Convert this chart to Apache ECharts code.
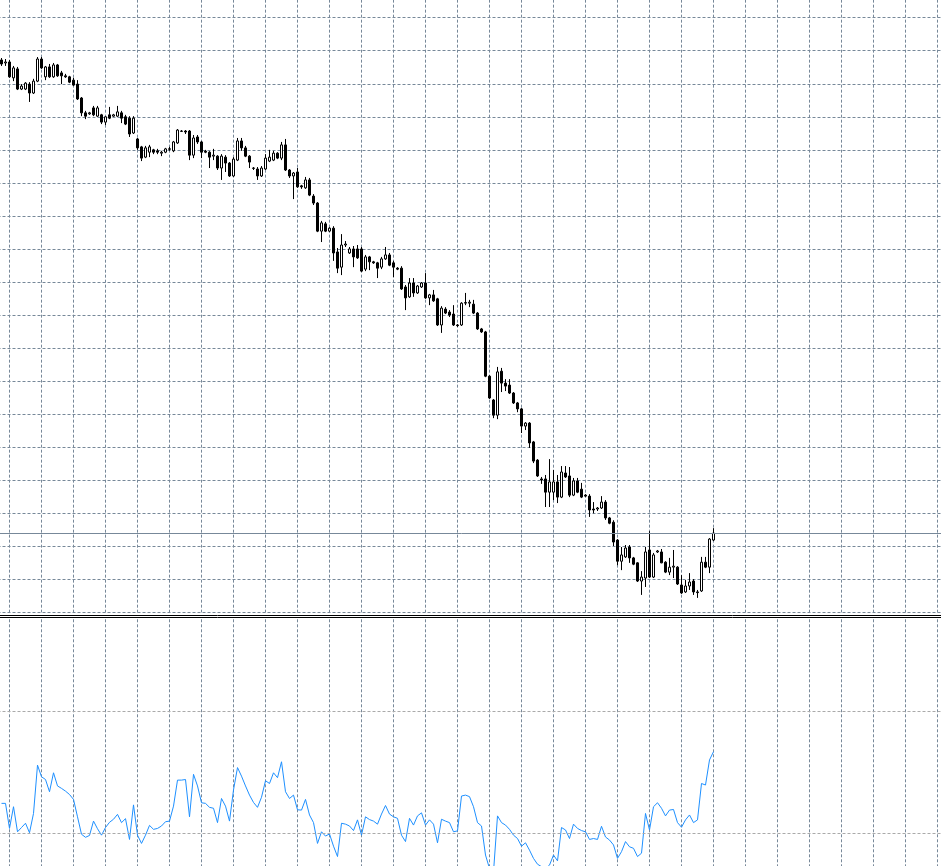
<!DOCTYPE html>
<html>
<head>
<meta charset="utf-8">
<script src="https://cdn.jsdelivr.net/npm/echarts@6/dist/echarts.min.js"></script>
<style>
html,body{margin:0;padding:0;background:#ffffff;width:941px;height:866px;overflow:hidden;position:relative;}
#chart{position:absolute;left:-40px;top:-40px;width:1030px;height:1000px;}
</style>
</head>
<body>
<div id="chart"></div>
<script>
// ---- Data (bar index 0..178) ----
const open = [
167.2,166.3,166.6,161.8,164.5,158.4,158.4,159.9,157.2,160.8,
167.5,162.1,165.1,162.1,165.7,163.3,162.4,162.1,161.1,159.9,
155.7,151.2,150.9,152.7,150.2,150.6,148.4,150.6,150.2,150.2,
151.2,150.0,149.6,145.1,143.3,140.9,137.8,139.3,140.0,139.7,
139.0,139.3,140.3,139.7,142.1,145.7,145.7,145.7,138.4,143.9,
142.4,139.6,139.3,138.1,138.1,134.5,137.8,136.0,132.1,136.9,
142.7,140.6,138.1,134.5,134.2,132.1,134.2,136.6,136.9,139.0,
137.5,141.5,133.9,132.1,133.3,129.1,128.5,130.9,126.0,123.9,
115.4,117.6,115.4,116.3,109.1,104.5,111.2,108.8,110.0,110.0,
110.0,103.9,107.6,106.1,105.8,104.5,107.0,108.2,105.8,104.2,
104.2,98.5,95.5,99.7,96.7,98.5,99.7,95.2,96.1,94.9,
87.0,91.8,90.9,90.3,87.0,87.0,93.6,93.6,93.3,90.6,
85.8,84.9,71.5,64.3,59.7,73.0,69.4,68.8,66.4,63.4,
61.6,56.4,57.3,51.6,46.1,40.4,40.4,36.4,36.4,39.5,
34.9,42.2,41.3,35.5,39.8,37.3,35.5,35.2,31.3,31.3,
31.6,33.4,28.6,27.3,21.9,15.5,16.8,19.8,16.5,15.0,
9.5,10.4,18.9,10.7,18.3,18.3,15.2,12.2,13.7,13.7,
8.3,6.2,8.0,9.5,6.2,6.5,15.2,13.7,21.9
];
const close = [
166.0,166.6,162.1,164.8,158.4,159.3,160.2,157.2,160.8,167.5,
164.8,165.1,162.1,165.7,162.4,162.4,162.1,160.5,159.6,155.4,
151.2,150.2,151.2,150.6,152.7,148.4,150.0,149.6,150.6,151.5,
149.6,147.8,144.8,149.6,140.6,137.5,140.6,140.9,139.3,139.3,
139.3,140.3,140.2,142.4,146.0,145.6,145.4,138.4,143.6,142.4,
139.3,139.3,137.8,138.4,134.5,138.1,136.0,132.1,137.2,142.7,
140.6,138.1,136.3,134.4,132.1,134.5,137.5,137.8,139.0,137.5,
141.5,133.9,132.1,133.0,128.8,128.8,130.9,126.3,123.9,115.4,
117.9,115.4,116.3,108.8,104.2,111.2,111.5,110.0,107.6,107.3,
103.3,107.6,106.1,105.8,104.2,107.0,108.2,105.1,104.5,103.9,
97.9,95.2,99.7,96.7,98.8,99.7,95.2,96.1,94.3,87.0,
92.1,90.6,90.0,87.0,86.8,93.6,93.8,93.9,90.6,85.8,
84.9,71.5,64.9,59.7,72.8,69.4,68.5,66.4,63.4,61.6,
56.4,57.3,51.3,45.8,41.3,40.1,36.4,39.5,39.5,34.9,
42.5,41.0,35.5,39.8,36.4,34.9,35.2,31.0,31.0,31.6,
33.4,28.6,27.0,21.3,15.5,17.4,19.5,16.5,14.6,9.5,
10.7,18.3,10.7,17.4,18.6,15.0,12.2,13.7,14.0,8.6,
5.9,8.0,9.2,6.2,6.0,15.2,13.7,22.2,24.0
];
const low = [
165.4,165.4,161.8,160.8,158.1,158.1,158.1,154.5,156.9,160.5,
164.5,161.1,161.8,161.8,162.1,159.9,161.8,160.2,159.3,155.1,
150.2,149.3,150.6,150.2,150.0,147.8,147.5,149.3,150.0,150.0,
148.1,147.5,143.9,144.8,140.0,136.6,137.5,137.8,138.7,138.7,
138.1,139.0,139.7,139.3,141.8,145.4,144.8,136.9,137.5,141.8,
137.5,139.0,134.5,136.9,133.9,130.9,133.3,131.8,131.8,136.6,
139.7,137.8,134.5,133.9,130.9,131.8,133.9,136.3,136.6,137.2,
136.9,133.6,131.5,125.1,128.5,128.2,128.2,126.0,123.3,115.1,
112.1,115.1,115.1,106.4,102.7,102.1,110.6,108.5,104.5,107.0,
103.0,103.3,103.6,105.5,101.2,103.9,106.7,104.8,101.5,103.6,
97.6,91.5,95.2,95.5,96.4,98.2,94.9,93.0,94.0,86.7,
84.6,90.3,89.4,86.7,86.4,86.7,93.0,92.4,90.3,85.5,
84.6,71.2,64.6,58.8,58.5,66.7,67.0,66.1,63.1,60.6,
54.3,55.2,49.8,45.2,41.0,38.9,31.9,31.9,34.0,33.1,
34.6,40.7,34.9,35.2,36.1,34.6,34.9,28.9,30.0,30.7,
31.3,28.0,26.7,20.1,14.3,12.8,16.5,15.0,14.3,9.2,
5.3,7.7,10.4,10.4,18.0,14.9,11.9,11.3,10.4,8.3,
5.6,5.9,6.8,5.3,4.4,6.2,13.4,11.9,21.6
];
const high = [
167.8,167.5,167.2,165.4,165.1,159.9,160.5,160.5,161.5,168.1,
168.1,165.4,166.0,166.3,166.0,163.9,163.0,162.4,161.8,161.1,
156.0,151.8,151.5,153.3,153.3,150.9,150.2,153.0,150.9,153.3,
151.8,150.6,150.2,150.2,143.6,141.2,141.2,141.5,140.3,140.3,
139.7,140.6,140.9,142.7,146.3,146.0,146.0,146.0,144.5,144.5,
142.7,140.0,139.6,140.3,138.4,138.7,138.4,136.3,137.8,143.6,
143.6,141.2,138.4,134.8,134.8,135.1,138.7,140.0,139.7,139.3,
142.4,143.3,134.2,133.3,134.5,129.4,131.8,131.5,126.6,124.2,
118.5,118.2,116.6,116.9,110.3,114.5,112.4,110.6,110.9,111.2,
110.6,108.2,107.9,106.4,106.1,107.6,110.6,108.8,106.4,104.5,
104.8,99.1,101.2,101.2,99.1,100.0,102.7,96.4,97.6,95.2,
92.7,92.4,91.5,93.0,87.3,93.9,96.7,94.6,94.6,90.9,
86.1,85.2,71.8,64.6,74.3,74.0,70.6,70.6,66.7,63.7,
61.9,57.6,57.6,51.9,46.4,41.0,41.6,46.4,43.1,41.6,
44.3,44.3,44.0,40.7,40.7,39.2,35.8,35.8,33.4,31.9,
35.2,34.0,28.9,27.9,22.2,19.8,20.4,20.4,16.8,15.2,
12.5,19.8,24.6,18.0,18.9,19.2,15.5,16.5,18.9,14.0,
11.3,9.8,11.9,10.1,6.8,16.8,16.8,22.5,25.5
];
const rsi = [
39.8,39.8,31.6,38.7,30.5,31.9,33.3,30.2,36.5,52.3,
48.5,47.6,43.6,49.8,45.5,44.7,43.8,42.7,41.1,35.4,
29.7,28.7,29.3,34.0,31.5,29.4,31.9,33.6,34.6,36.2,
33.5,34.8,28.0,39.3,29.4,26.7,29.4,32.6,31.3,31.6,
32.4,33.8,34.0,38.9,47.4,47.4,47.6,35.4,49.3,45.5,
40.0,39.8,38.5,38.2,33.5,41.4,38.9,34.0,44.2,51.5,
48.7,45.5,42.5,40.1,38.5,41.8,47.2,46.3,49.8,48.2,
53.4,43.6,41.4,42.5,37.7,37.6,41.1,36.0,33.5,26.7,
30.5,29.1,29.8,25.8,22.4,33.3,33.0,32.4,30.9,34.4,
29.4,35.4,34.5,34.0,33.0,36.3,39.1,36.3,35.4,34.9,
29.4,27.3,34.9,32.7,35.7,36.7,32.7,34.4,33.0,26.9,
34.6,34.0,33.5,30.5,30.8,42.2,42.5,42.0,38.7,33.5,
32.4,22.9,18.5,17.4,35.7,33.5,32.7,31.3,29.4,28.3,
25.8,26.9,24.5,21.8,19.9,19.1,18.5,19.6,22.9,21.0,
31.9,31.1,28.3,33.0,31.6,30.9,30.5,28.0,28.3,28.0,
32.3,28.8,27.8,26.2,21.8,24.0,27.3,25.6,25.1,22.4,
23.5,36.5,31.1,38.7,40.0,38.2,35.7,37.6,37.8,33.5,
32.0,34.4,36.0,33.5,34.4,46.3,45.8,54.0,56.7
];
const rsiLevels = [30, 70];

// ---- build series data ----
const candleData = open.map((o, i) => [i, o, close[i], low[i], high[i]]);
const rsiData = rsi.map((v, i) => [i, v]);
const lastClose = close[close.length - 1];

const GRID_COLOR = '#778899';
const dash = [3, 2];
// chart container is offset by (-40,-40) from the page
const OFF = 40;

const xAxisBase = {
  type: 'value', min: -6, max: 236, interval: 8,
  axisLine: {show: false}, axisTick: {show: false}, axisLabel: {show: false},
  splitLine: {show: true, lineStyle: {color: GRID_COLOR, type: dash, width: 1}}
};

const chart = echarts.init(document.getElementById('chart'), null, {renderer: 'canvas'});
chart.setOption({
  animation: false,
  backgroundColor: '#ffffff',
  grid: [
    {left: OFF - 22.5, width: 968, top: OFF - 15.34, height: 627.76, containLabel: false},
    {left: OFF - 22.5, width: 968, top: OFF + 619.3, height: 305.75, containLabel: false}
  ],
  xAxis: [
    Object.assign({gridIndex: 0}, xAxisBase),
    Object.assign({gridIndex: 1}, xAxisBase)
  ],
  yAxis: [
    {gridIndex: 0, type: 'value', min: 0, max: 190, interval: 10,
     axisLine: {show: false}, axisTick: {show: false}, axisLabel: {show: false},
     splitLine: {show: true, lineStyle: {color: GRID_COLOR, type: dash, width: 1}}},
    {gridIndex: 1, type: 'value', min: 0, max: 100,
     axisLine: {show: false}, axisTick: {show: false}, axisLabel: {show: false},
     splitLine: {show: false}}
  ],
  series: [
    {
      type: 'candlestick',
      xAxisIndex: 0, yAxisIndex: 0,
      encode: {x: 0, y: [1, 2, 3, 4]},
      data: candleData,
      barWidth: 2,
      itemStyle: {color: '#ffffff', color0: '#000000', borderColor: '#000000', borderColor0: '#000000', borderWidth: 1},
      markLine: {
        silent: true, symbol: ['none', 'none'], label: {show: false},
        lineStyle: {color: GRID_COLOR, type: 'solid', width: 1},
        data: [{yAxis: lastClose}]
      }
    },
    {
      type: 'line',
      xAxisIndex: 1, yAxisIndex: 1,
      data: rsiData,
      showSymbol: false,
      symbol: 'none',
      lineStyle: {color: '#1E90FF', width: 1},
      clip: true,
      markLine: {
        silent: true, symbol: ['none', 'none'], label: {show: false},
        lineStyle: {color: '#aaaaaa', type: dash, width: 1},
        data: rsiLevels.map(v => ({yAxis: v}))
      }
    }
  ],
  graphic: [
    {type: 'line', shape: {x1: 0, y1: OFF + 615.5, x2: 1030, y2: OFF + 615.5}, style: {stroke: '#000000', lineWidth: 1}, silent: true},
    {type: 'line', shape: {x1: 0, y1: OFF + 617.5, x2: 1030, y2: OFF + 617.5}, style: {stroke: '#000000', lineWidth: 1}, silent: true}
  ]
});
</script>
</body>
</html>
